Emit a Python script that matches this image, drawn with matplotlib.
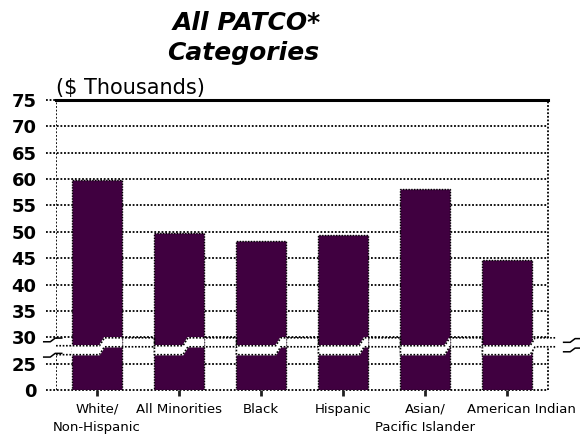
import numpy as np
import matplotlib.pyplot as plt
import matplotlib.transforms as mtransforms

plt.rcParams['font.family'] = ['DejaVu Sans']

# # DATA
categories = ["White/\nNon-Hispanic", "All Minorities", "Black", "Hispanic",
              "Asian/\nPacific Islander", "American Indian"]
salary = [59.8, 49.7, 48.2, 49.4, 58.2, 44.7]   # $ thousands
y_tick_values = [0, 25, 30, 35, 40, 45, 50, 55, 60, 65, 70, 75]

BAR = '#400040'
DOT = (0, (1, 1))

# broken axis: 0 sits where 20 would be, everything from 25 up is linear
def ypos(v):
    return v if v >= 25 else 20.0

# break band (drawn in axis units) and where it steps up in each bar
lo_band = (26.7, 28.4)
hi_band = (28.2, 29.9)
step_frac = [0.55, 0.58, 0.8, 0.83, 0.9, 0.97]


def squiggle(ax, xc, yc):
    xs = [xc - 0.11, xc - 0.03, xc + 0.03, xc + 0.11]
    ys = [yc - 0.35, yc - 0.35, yc + 0.35, yc + 0.35]
    ax.plot(xs, ys, color='black', lw=1.1, clip_on=False, zorder=6)


fig = plt.figure(figsize=(5.8, 4.43), dpi=100)
ax = fig.add_axes([0.0966, 0.1196, 0.8483, 0.6546])
x = np.arange(len(categories))
W = 0.6
left_x, right_x = -0.5, len(categories) - 0.5
ax.set_xlim(left_x, right_x)
ax.set_ylim(ypos(0), 75)

# grid lines, with the little dotted stubs out to the left as ticks
for v in y_tick_values:
    yy = ypos(v)
    if v == 75:
        ax.plot([left_x - 0.12, left_x], [yy, yy], color='black', lw=1.3, ls=DOT,
                clip_on=False, zorder=1)
        ax.plot([left_x, right_x], [yy, yy], color='black', lw=2.2,
                clip_on=False, zorder=5)
    else:
        ax.plot([left_x - 0.12, right_x], [yy, yy], color='black', lw=1.3, ls=DOT,
                clip_on=False, zorder=1)

base = ypos(0)
ax.bar(x, [s - base for s in salary], bottom=base, width=W, color=BAR,
       edgecolor='black', linewidth=1.0, linestyle=DOT, zorder=2)

# white break band through every bar
dx = 0.06
zx = [left_x]
zt = [lo_band[1]]
zb = [lo_band[0]]
for i, xi in enumerate(x):
    l = xi - W / 2
    r = xi + W / 2
    s = l + step_frac[i] * W
    e = max(r, s + dx)
    top = [(l, lo_band[1]), (s, lo_band[1]), (s + dx, hi_band[1]), (e, hi_band[1])]
    bot = [(l, lo_band[0]), (s, lo_band[0]), (s + dx, hi_band[0]), (e, hi_band[0])]
    poly = top + bot[::-1]
    ax.fill([p[0] for p in poly], [p[1] for p in poly], color='white',
            zorder=3, clip_on=False)
    zx += [l, l, s, s + dx, e]
    zt += [zt[-1], lo_band[1], lo_band[1], hi_band[1], hi_band[1]]
    zb += [zb[-1], lo_band[0], lo_band[0], hi_band[0], hi_band[0]]
zx.append(right_x + 0.09)
zt.append(hi_band[1])
zb.append(hi_band[0])
ax.plot(zx, zt, color='black', lw=1.2, ls=DOT, zorder=4, clip_on=False)
ax.plot(zx, zb, color='black', lw=1.2, ls=DOT, zorder=4, clip_on=False)

# side lines, interrupted at the break
for sp in ax.spines.values():
    sp.set_visible(False)
ax.plot([left_x, left_x], [ypos(0), 26.4], color='black', lw=1.3, ls=DOT, zorder=5)
ax.plot([left_x, left_x], [29.6, 75], color='black', lw=1.3, ls=DOT, zorder=5)
ax.plot([right_x, right_x], [ypos(0), hi_band[0]], color='black', lw=1.3, ls=DOT,
        zorder=5, clip_on=False)
ax.plot([right_x, right_x], [hi_band[1], 75], color='black', lw=1.3, ls=DOT,
        zorder=5, clip_on=False)
squiggle(ax, left_x - 0.04, 29.5)
squiggle(ax, left_x - 0.04, 26.6)
squiggle(ax, right_x + 0.3, 29.4)
squiggle(ax, right_x + 0.3, 27.6)

ax.set_xticks(x, categories)
ax.tick_params(axis='x', length=4, width=2, pad=5, labelsize=9.5, color='#202020')
for lbl in ax.get_xticklabels():
    lbl.set_linespacing(1.5)
# last label sits a bit right of its tick in the original
last = ax.get_xticklabels()[-1]
last.set_transform(last.get_transform() +
                   mtransforms.ScaledTranslation(0.14, 0, fig.dpi_scale_trans))

ax.set_yticks([ypos(v) for v in y_tick_values], [str(v) for v in y_tick_values])
ax.tick_params(axis='y', length=0, pad=14, labelsize=13)
for lbl in ax.get_yticklabels():
    lbl.set_fontweight('bold')

fig.text(247 / 580, 1 - 29.5 / 443, "All PATCO*", ha='center', va='baseline',
         fontsize=18, fontweight='bold', fontstyle='italic')
fig.text(243 / 580, 1 - 60 / 443, "Categories", ha='center', va='baseline',
         fontsize=18, fontweight='bold', fontstyle='italic')
fig.text(56 / 580, 1 - 94 / 443, "($ Thousands)", ha='left', va='baseline',
         fontsize=15)

fig.savefig('out.png', dpi=100)
